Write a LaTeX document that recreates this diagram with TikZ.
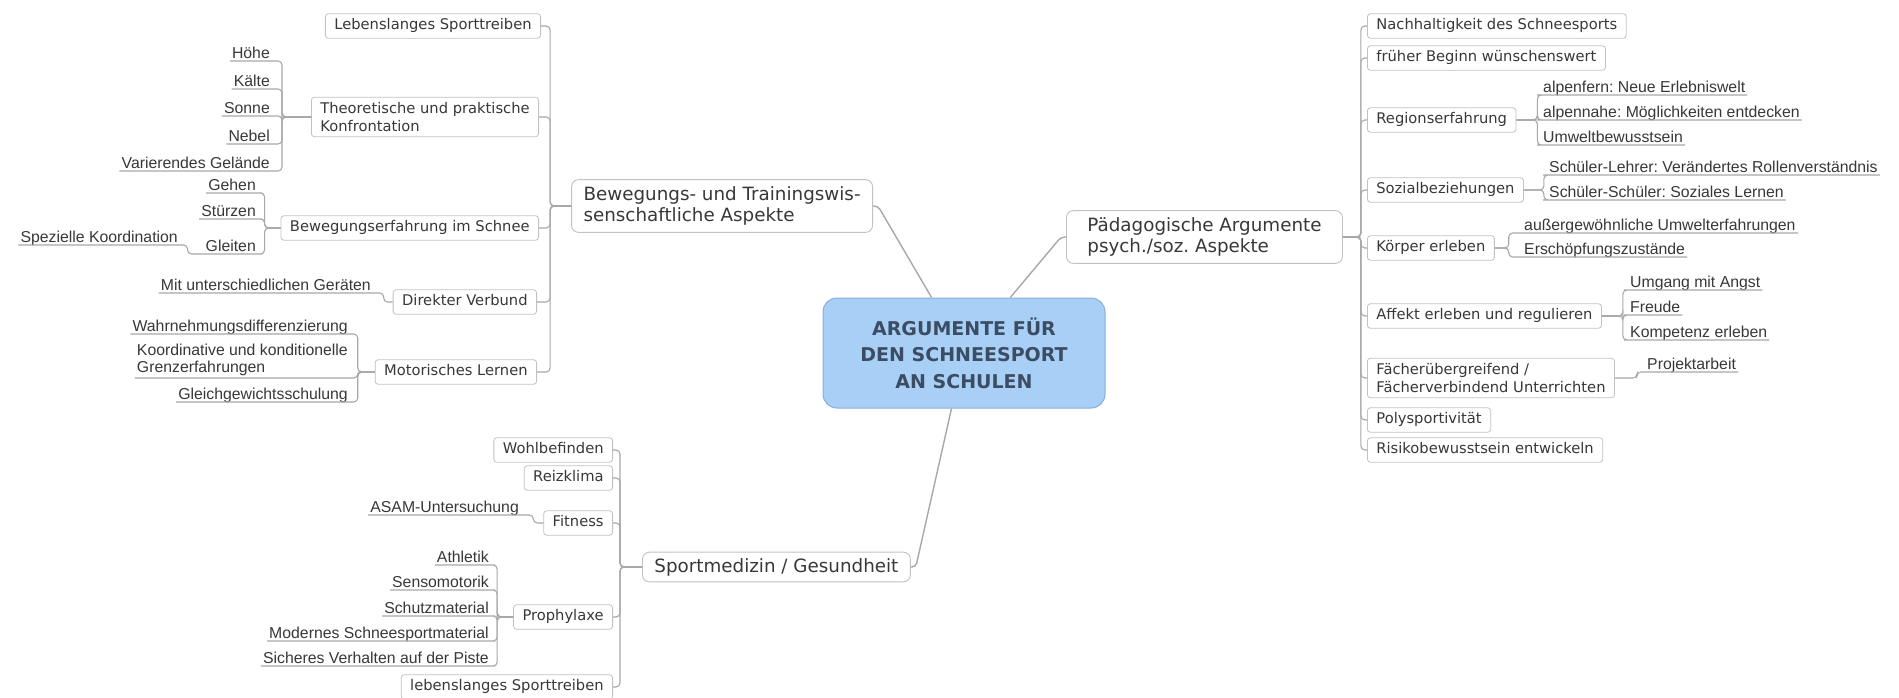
\documentclass[tikz,border=0pt]{standalone}
\usepackage{fontspec}
\setmainfont{DejaVu Sans}
\newfontfamily\leaffont{Liberation Sans}
\usepackage{tikz}
\usetikzlibrary{positioning}
\frenchspacing
\definecolor{rootfill}{HTML}{A8D0F7}
\definecolor{rootline}{HTML}{86AEDB}
\definecolor{roottext}{HTML}{3B4C63}
\definecolor{boxline}{HTML}{C2C2C2}
\definecolor{linegray}{HTML}{A8A8A8}
\definecolor{textgray}{HTML}{383838}
\tikzset{
        rootbox/.style = {draw=rootline, fill=rootfill, line width=1pt,
            rounded corners=14pt, text=roottext, align=center,
            font=\bfseries\fontsize{19}{26.5}\selectfont,
            minimum width=282pt, minimum height=110pt},
        mainbox/.style = {draw=boxline, line width=0.9pt, rounded corners=7pt,
            text=textgray, align=left, inner xsep=12pt, inner ysep=7pt,
            font=\fontsize{18.3}{21}\selectfont},
        subbox/.style = {draw=boxline, line width=0.8pt, rounded corners=3pt,
            text=textgray, align=left, inner xsep=9pt, inner ysep=5pt,
            font=\fontsize{14.7}{18}\selectfont},
        subone/.style = {subbox, text height=11pt, text depth=3.5pt},
        leafbase/.style = {text=textgray, inner xsep=2pt, inner ysep=2pt,
            font=\leaffont\fontsize{15.8}{17}\selectfont},
        leaf/.style = {leafbase, text depth=0pt},
        conn/.style = {draw=linegray, line width=1.1pt, rounded corners=4pt},
        trunk/.style = {conn, line width=1.4pt},
    }

\begin{document}
\begin{tikzpicture}[x=1pt,y=-1pt]
\useasboundingbox (0,0) rectangle (1899,697);
\fill[white] (0,0) rectangle (1899,697);

\node[rootbox] (root) at (964,353) {ARGUMENTE FÜR\\DEN SCHNEESPORT\\AN SCHULEN};

\node[mainbox, anchor=east] (bew) at (873,206) {Bewegungs- und Trainingswis-\\senschaftliche Aspekte};
\node[mainbox, anchor=west, minimum width=276pt] (paed) at (1066,237) {Pädagogische Argumente\\psych./soz. Aspekte};
\node[mainbox, anchor=west, inner ysep=6pt] (sport) at (642,567) {Sportmedizin / Gesundheit};

\draw[trunk] (bew.east) -- ++(5,0) -- (root);
\draw[trunk] (paed.west) -- ++(-5,0) -- (root);
\draw[trunk] (sport.east) -- ++(5,0) -- (root);

% Bewegungs- und Trainingswissenschaft
\node[subone, anchor=east] (life1) at (541,26) {Lebenslanges Sporttreiben};
\node[subbox, anchor=east] (theo) at (539,117) {Theoretische und praktische\\Konfrontation};
\node[subone, anchor=east] (bewerf) at (539,228) {Bewegungserfahrung im Schnee};
\node[subone, anchor=east] (direkt) at (537,302) {Direkter Verbund};
\node[subone, anchor=east] (motor) at (537,372) {Motorisches Lernen};

\node[leaf, anchor=south east] (hoehe) at (272,61) {Höhe};
\node[leaf, anchor=south east] (kaelte) at (272,89) {Kälte};
\node[leaf, anchor=south east] (sonne) at (272,116) {Sonne};
\node[leaf, anchor=south east] (nebel) at (272,144) {Nebel};
\node[leaf, anchor=south east] (gelaende) at (272,171) {Varierendes Gelände};

\node[leaf, anchor=south east] (gehen) at (258,193) {Gehen};
\node[leaf, anchor=south east] (stuerzen) at (258,219) {Stürzen};
\node[leaf, anchor=south east] (gleiten) at (258,254) {Gleiten};
\node[leaf, anchor=south east] (spez) at (180,245) {Spezielle Koordination};

\node[leaf, anchor=south east] (mit) at (373,293) {Mit unterschiedlichen Geräten};

\node[leaf, anchor=south east] (wahr) at (350,334) {Wahrnehmungsdifferenzierung};
\node[leafbase, align=left, anchor=south east] (koord) at (350,378) {Koordinative und konditionelle\\Grenzerfahrungen};
\node[leaf, anchor=south east] (gleich) at (350,402) {Gleichgewichtsschulung};

\foreach \n in {life1,theo,bewerf,direkt,motor}
  \draw[conn] (bew.west) -- ++(-21,0) |- (\n.east);
\foreach \n in {hoehe,kaelte,sonne,nebel,gelaende}
  \draw[conn] (theo.west) -- ++(-29,0) |- (\n.south east) -- (\n.south west);
\foreach \n in {gehen,stuerzen,gleiten}
  \draw[conn] (bewerf.west) -- ++(-16,0) |- (\n.south east) -- (\n.south west);
\draw[conn] (gleiten.south west) -- ++(-16,0) |- (spez.south east) -- (spez.south west);
\draw[conn] (direkt.west) -- ++(-9,0) |- (mit.south east) -- (mit.south west);
\foreach \n in {wahr,koord,gleich}
  \draw[conn] (motor.west) -- ++(-17,0) |- (\n.south east) -- (\n.south west);

% Sportmedizin
\node[subone, anchor=east] (wohl) at (613,450) {Wohlbefinden};
\node[subone, anchor=east] (reiz) at (613,478) {Reizklima};
\node[subone, anchor=east] (fit) at (613,523) {Fitness};
\node[subone, anchor=east] (proph) at (613,617) {Prophylaxe};
\node[subone, anchor=east] (life2) at (613,687) {lebenslanges Sporttreiben};

\node[leaf, anchor=south east] (asam) at (521,515) {ASAM-Untersuchung};

\node[leaf, anchor=south east] (athl) at (491,565) {Athletik};
\node[leaf, anchor=south east] (senso) at (491,590) {Sensomotorik};
\node[leaf, anchor=south east] (schutz) at (491,616) {Schutzmaterial};
\node[leaf, anchor=south east] (modern) at (491,641) {Modernes Schneesportmaterial};
\node[leaf, anchor=south east] (sicher) at (491,666) {Sicheres Verhalten auf der Piste};

\foreach \n in {wohl,reiz,fit,proph,life2}
  \draw[conn] (sport.west) -- ++(-22,0) |- (\n.east);
\draw[conn] (fit.west) -- ++(-10,0) |- (asam.south east) -- (asam.south west);
\foreach \n in {athl,senso,schutz,modern,sicher}
  \draw[conn] (proph.west) -- ++(-16,0) |- (\n.south east) -- (\n.south west);

% Paedagogische Argumente
\node[subone, anchor=west] (nach) at (1367,26) {Nachhaltigkeit des Schneesports};
\node[subone, anchor=west] (frueh) at (1367,58) {früher Beginn wünschenswert};
\node[subone, anchor=west] (region) at (1367,120) {Regionserfahrung};
\node[subone, anchor=west] (sozial) at (1367,190) {Sozialbeziehungen};
\node[subone, anchor=west] (koerper) at (1367,248) {Körper erleben};
\node[subone, anchor=west] (affekt) at (1367,316) {Affekt erleben und regulieren};
\node[subbox, anchor=west] (faecher) at (1367,378) {Fächerübergreifend /\\Fächerverbindend Unterrichten};
\node[subone, anchor=west] (poly) at (1367,420) {Polysportivität};
\node[subone, anchor=west] (risiko) at (1367,450) {Risikobewusstsein entwickeln};

\node[leaf, anchor=south west] (alpfern) at (1541,95) {alpenfern: Neue Erlebniswelt};
\node[leaf, anchor=south west] (alpnah) at (1541,120) {alpennahe: Möglichkeiten entdecken};
\node[leaf, anchor=south west] (umwelt) at (1541,145) {Umweltbewusstsein};

\node[leaf, anchor=south west] (sl) at (1547,175) {Schüler-Lehrer: Verändertes Rollenverständnis};
\node[leaf, anchor=south west] (ss) at (1547,200) {Schüler-Schüler: Soziales Lernen};

\node[leaf, anchor=south west] (ausser) at (1522,233) {außergewöhnliche Umwelterfahrungen};
\node[leaf, anchor=south west] (ersch) at (1522,257) {Erschöpfungszustände};

\node[leaf, anchor=south west] (angst) at (1628,290) {Umgang mit Angst};
\node[leaf, anchor=south west] (freude) at (1628,315) {Freude};
\node[leaf, anchor=south west] (kompetenz) at (1628,340) {Kompetenz erleben};

\node[leaf, anchor=south west] (projekt) at (1645,372) {Projektarbeit};

\foreach \n in {nach,frueh,region,sozial,koerper,affekt,faecher,poly,risiko}
  \draw[conn] (paed.east) -- ++(18,0) |- (\n.west);
\foreach \n in {alpfern,alpnah,umwelt}
  \draw[conn] (region.east) -- ++(21,0) |- (\n.south west) -- (\n.south east);
\foreach \n in {sl,ss}
  \draw[conn] (sozial.east) -- ++(20,0) |- (\n.south west) -- (\n.south east);
\foreach \n in {ausser,ersch}
  \draw[conn] (koerper.east) -- ++(14,0) |- (\n.south west) -- (\n.south east);
\foreach \n in {angst,freude,kompetenz}
  \draw[conn] (affekt.east) -- ++(21,0) |- (\n.south west) -- (\n.south east);
\draw[conn] (faecher.east) -- ++(22,0) |- (projekt.south west) -- (projekt.south east);
\end{tikzpicture}
\end{document}
